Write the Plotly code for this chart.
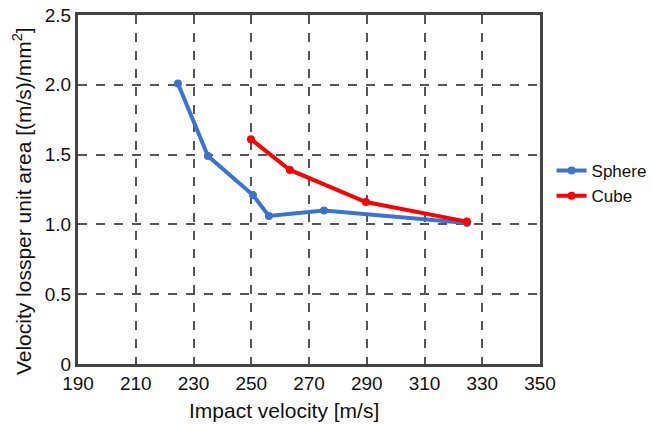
import plotly.graph_objects as go

sphere_x = [224.6, 235.0, 250.6, 256.1, 275.2, 324.7]
sphere_y = [2.01, 1.49, 1.21, 1.06, 1.10, 1.01]
cube_x = [249.9, 263.4, 289.7, 324.7]
cube_y = [1.61, 1.39, 1.16, 1.02]

x_ticks = [190, 210, 230, 250, 270, 290, 310, 330, 350]
y_ticks = [0, 0.5, 1.0, 1.5, 2.0, 2.5]
y_ticktext = ["0", "0.5", "1.0", "1.5", "2.0", "2.5"]

x_title = "Impact velocity [m/s]"
y_title = "Velocity lossper unit area [(m/s)/mm<sup>2</sup>]"

fig = go.Figure()
fig.add_trace(go.Scatter(x=sphere_x, y=sphere_y, mode="lines+markers", name="Sphere",
                         line=dict(color="#3a74d0", width=4), marker=dict(size=8, color="#3a74d0")))
fig.add_trace(go.Scatter(x=cube_x, y=cube_y, mode="lines+markers", name="Cube",
                         line=dict(color="#ff0000", width=4), marker=dict(size=8, color="#ff0000")))

fig.update_layout(
    width=653, height=424,
    margin=dict(l=78, r=113, t=15, b=60, autoexpand=False),
    paper_bgcolor="white", plot_bgcolor="white",
    font=dict(family="Liberation Sans", size=19, color="#111"),
    showlegend=True,
    legend=dict(x=1.025, y=0.517, xanchor="left", yanchor="middle", itemwidth=30,
                font=dict(size=17), bgcolor="rgba(0,0,0,0)", tracegroupgap=0),
    annotations=[
        dict(text=x_title, xref="paper", yref="paper", x=0.445, y=-0.132,
             xanchor="center", yanchor="middle", showarrow=False, font=dict(size=21)),
        dict(text=y_title, xref="paper", yref="paper", x=-0.121, y=0.467, textangle=-90,
             xanchor="center", yanchor="middle", showarrow=False, font=dict(size=21)),
    ],
)
fig.update_xaxes(range=[190, 350], tickvals=x_ticks, showgrid=True,
                 gridcolor="#555", griddash="dash", gridwidth=1.5,
                 showline=True, linecolor="#444", linewidth=3, mirror=True,
                 ticks="", zeroline=False, automargin=False,
                 tickfont=dict(size=19))
fig.update_yaxes(range=[0, 2.5], tickvals=y_ticks, ticktext=y_ticktext, showgrid=True,
                 gridcolor="#555", griddash="dash", gridwidth=1.5,
                 showline=True, linecolor="#444", linewidth=3, mirror=True,
                 ticks="", zeroline=False, automargin=False,
                 tickfont=dict(size=19))

fig.write_html("out.html", config={"displayModeBar": False},
               post_script="document.body.style.margin='0';document.body.style.overflow='hidden';")
